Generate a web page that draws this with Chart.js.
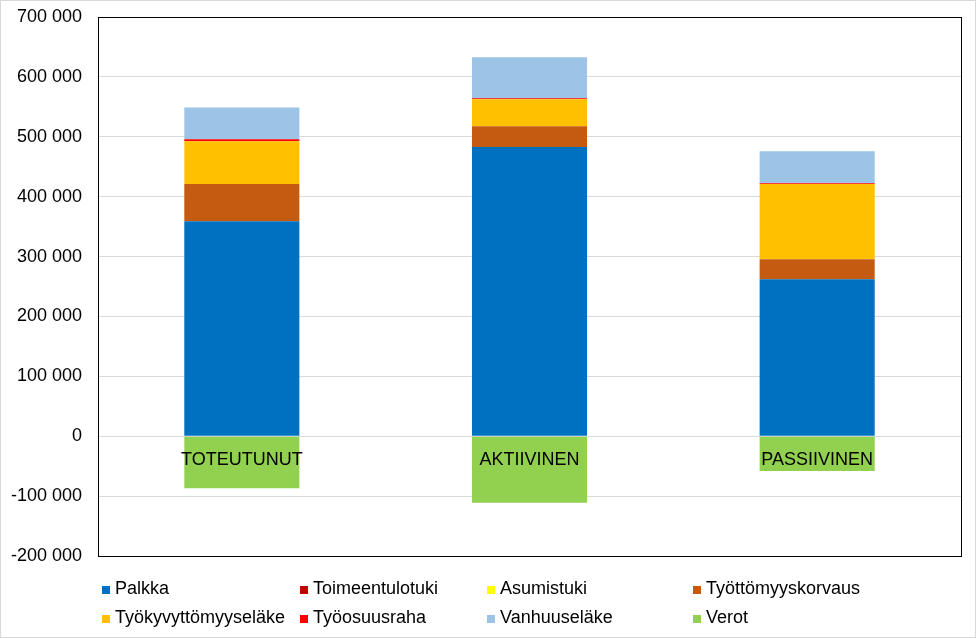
<!DOCTYPE html>
<html>
<head>
<meta charset="utf-8">
<script src="https://cdn.jsdelivr.net/npm/chart.js@4/dist/chart.umd.min.js"></script>
<style>
   html, body { margin: 0; padding: 0; background: #fff; }
   canvas { display: block; }
</style>
</head>
<body>
<canvas id="chart" width="976" height="638"></canvas>
<script>
const categories = ["TOTEUTUNUT", "AKTIIVINEN", "PASSIIVINEN"];
const palkka = [359000, 483000, 262000];
const toimeentulotuki = [0, 0, 0];
const asumistuki = [0, 0, 0];
const tyottomyyskorvaus = [62000, 34500, 33500];
const tyokyvyttomyyselake = [71500, 45000, 125700];
const tyoosuusraha = [3300, 1700, 1200];
const vanhuuselake = [53000, 68400, 53400];
const verot = [-87000, -111000, -58000];

const seriesNames = [
   "Palkka", "Toimeentulotuki", "Asumistuki", "Työttömyyskorvaus",
   "Työkyvyttömyyseläke", "Työosuusraha", "Vanhuuseläke", "Verot",
];
const seriesColors = [
   "#0070C0", "#C00000", "#FFFF00", "#C55A11",
   "#FFC000", "#FF0000", "#9DC3E6", "#92D050",
];
const seriesValues = [
   palkka, toimeentulotuki, asumistuki, tyottomyyskorvaus,
   tyokyvyttomyyselake, tyoosuusraha, vanhuuselake, verot,
];

const FONT = "'Liberation Sans', Arial, sans-serif";

function formatNumber(v) {
   const s = Math.abs(v).toString().replace(/\B(?=(\d{3})+(?!\d))/g, " ");
   return (v < 0 ? "-" : "") + s;
}

// Rahmen, Kategorienamen an der Nulllinie, Legende im Raster
const framePlugin = {
   id: "frame",
   beforeDraw(chart) {
      const ctx = chart.ctx;
      ctx.save();
      ctx.fillStyle = "#fff";
      ctx.fillRect(0, 0, chart.width, chart.height);
      ctx.restore();
   },
   afterDatasetsDraw(chart) {
      const ctx = chart.ctx;
      const xs = chart.scales.x;
      const y0 = chart.scales.y.getPixelForValue(0);
      ctx.save();
      ctx.font = "18px " + FONT;
      ctx.fillStyle = "#000";
      ctx.textAlign = "center";
      ctx.textBaseline = "alphabetic";
      chart.data.labels.forEach((lab, i) => {
         ctx.fillText(lab, xs.getPixelForValue(i), y0 + 29);
      });
      ctx.restore();
   },
   afterDraw(chart) {
      const ctx = chart.ctx;
      const a = chart.chartArea;
      ctx.save();
      ctx.strokeStyle = "#d9d9d9";
      ctx.lineWidth = 1;
      ctx.strokeRect(0.5, 0.5, chart.width - 1, chart.height - 1);
      ctx.strokeStyle = "#000";
      ctx.strokeRect(Math.round(a.left) + 0.5, Math.round(a.top) + 0.5,
         Math.round(a.right - a.left), Math.round(a.bottom - a.top));

      // Legende: 4 Spalten, 2 Zeilen
      const colX = [102, 300, 487, 693];
      const rowY = [594, 623];
      ctx.font = "18px " + FONT;
      ctx.textBaseline = "alphabetic";
      ctx.textAlign = "left";
      chart.data.datasets.forEach((ds, i) => {
         const x = colX[i % 4];
         const y = rowY[Math.floor(i / 4)];
         ctx.fillStyle = ds.backgroundColor;
         ctx.fillRect(x, y - 8, 8, 8);
         ctx.fillStyle = "#000";
         ctx.fillText(ds.label, x + 13, y);
      });
      ctx.restore();
   },
};

new Chart(document.getElementById("chart"), {
   type: "bar",
   data: {
      labels: categories,
      datasets: seriesNames.map((name, i) => ({
         label: name,
         data: seriesValues[i],
         backgroundColor: seriesColors[i],
         borderWidth: 0,
         barPercentage: 0.4,
         categoryPercentage: 1,
      })),
   },
   options: {
      responsive: false,
      animation: false,
      layout: {
         padding: { left: 0, right: 15, top: 17, bottom: 82 },
      },
      scales: {
         x: {
            stacked: true,
            display: false,
         },
         y: {
            stacked: true,
            min: -200000,
            max: 700000,
            afterFit: (scale) => {
               scale.width = 98;
               scale.paddingTop = 0;
               scale.paddingBottom = 0;
            },
            ticks: {
               stepSize: 100000,
               color: "#000",
               padding: 16,
               font: { family: FONT, size: 18 },
               callback: (v) => formatNumber(v),
            },
            grid: {
               color: "#d9d9d9",
               lineWidth: 1,
               drawTicks: false,
            },
            border: { display: false },
         },
      },
      plugins: {
         legend: { display: false },
         tooltip: { enabled: false },
      },
   },
   plugins: [framePlugin],
});
</script>
</body>
</html>
